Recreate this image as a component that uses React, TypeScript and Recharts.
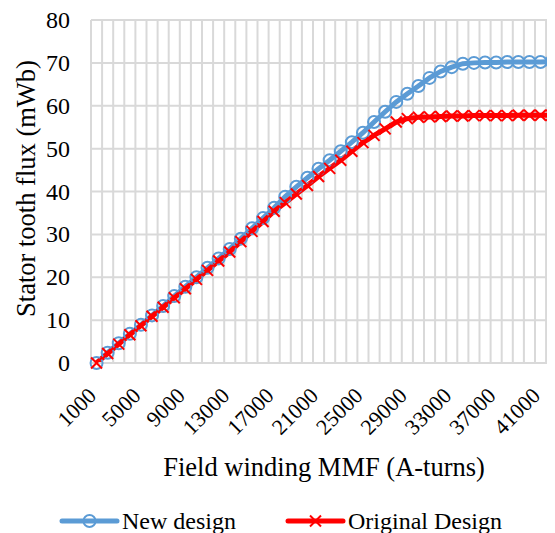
import React from 'react';
import { LineChart, Line, XAxis, YAxis, CartesianGrid, Legend } from 'recharts';

const mmf = [
  1000, 2000, 3000, 4000, 5000, 6000, 7000, 8000, 9000, 10000,
  11000, 12000, 13000, 14000, 15000, 16000, 17000, 18000, 19000, 20000,
  21000, 22000, 23000, 24000, 25000, 26000, 27000, 28000, 29000, 30000,
  31000, 32000, 33000, 34000, 35000, 36000, 37000, 38000, 39000, 40000,
  41000, 42000,
];

const newDesign = [
  0, 2.4, 4.6, 6.8, 8.9, 11.1, 13.3, 15.6, 17.8, 20.0,
  22.2, 24.4, 26.6, 29.0, 31.4, 33.8, 36.2, 38.8, 41.1, 43.2,
  45.3, 47.3, 49.4, 51.5, 53.7, 56.2, 58.6, 60.9, 62.8, 64.6,
  66.5, 68.0, 69.0, 69.8, 70.0, 70.1, 70.1, 70.2, 70.2, 70.2,
  70.2, 70.3,
];

const originalDesign = [
  0, 2.2, 4.4, 6.6, 8.7, 10.9, 13.0, 15.2, 17.3, 19.5,
  21.6, 23.8, 25.9, 28.3, 30.7, 33.0, 35.4, 37.4, 39.4, 41.4,
  43.5, 45.4, 47.3, 49.4, 51.4, 53.1, 54.6, 56.2, 57.0, 57.3,
  57.4, 57.5, 57.6, 57.6, 57.7, 57.7, 57.7, 57.7, 57.8, 57.8,
  57.8, 57.8,
];

const xTickLabels = [1000, 5000, 9000, 13000, 17000, 21000, 25000, 29000, 33000, 37000, 41000];
const yTicks = [0, 10, 20, 30, 40, 50, 60, 70, 80];
const gridTicks = [...mmf.map((v) => v - 500), 42500];

const seriesNames = ['New design', 'Original Design'];
const seriesColors = ['#5B9BD5', '#FF0000'];

const data = mmf.map((x, i) => ({ x, newDesign: newDesign[i], originalDesign: originalDesign[i] }));

const FONT = "'Liberation Serif', 'Times New Roman', serif";
const FS_XTICK = 22;
const FS_YTICK = 24;
const FS_TITLE = 26.5;
const FS_LEGEND = 24;
const TEXT = '#000000';
const GRID = '#D9D9D9';

const CircleDot = (props: any) => {
  const { cx, cy } = props;
  if (cx == null || cy == null) return null;
  return <circle cx={cx} cy={cy} r={6} fill="none" stroke={seriesColors[0]} strokeWidth={2} />;
};

const CrossDot = (props: any) => {
  const { cx, cy } = props;
  if (cx == null || cy == null) return null;
  const s = 5.5;
  return (
    <g stroke={seriesColors[1]} strokeWidth={2}>
      <line x1={cx - s} y1={cy - s} x2={cx + s} y2={cy + s} />
      <line x1={cx - s} y1={cy + s} x2={cx + s} y2={cy - s} />
    </g>
  );
};

const XTick = (props: any) => {
  const { x, y, payload } = props;
  const ax = x + 1;
  const ay = y + 34;
  return (
    <text x={ax} y={ay} textAnchor="end" transform={`rotate(-45, ${ax}, ${ay})`} fontFamily={FONT} fontSize={FS_XTICK} fill={TEXT}>
      {payload.value}
    </text>
  );
};

const YTick = (props: any) => {
  const { y, payload } = props;
  return (
    <text x={62} y={y} dy={8} textAnchor="end" fontFamily={FONT} fontSize={FS_YTICK} fill={TEXT}>
      {payload.value}
    </text>
  );
};

const YTitle = (props: any) => {
  const vb = props.viewBox || {};
  const cy = vb.y + vb.height / 2 - 3;
  const x = 27;
  return (
    <text x={x} y={cy} textAnchor="middle" transform={`rotate(-90, ${x}, ${cy})`} fontFamily={FONT} fontSize={FS_TITLE} fill={TEXT}>
      Stator tooth flux (mWb)
    </text>
  );
};

const XTitle = (props: any) => {
  const vb = props.viewBox || {};
  const cx = vb.x + vb.width / 2;
  return (
    <text x={cx} y={468} textAnchor="middle" fontFamily={FONT} fontSize={FS_TITLE} fill={TEXT}>
      Field winding MMF (A-turns)
    </text>
  );
};

const LegendContent = () => {
  const items = [
    { x0: 54, name: seriesNames[0], color: seriesColors[0], kind: 'circle' },
    { x0: 280, name: seriesNames[1], color: seriesColors[1], kind: 'cross' },
  ];
  return (
    <svg width={560} height={24} style={{ display: 'block', overflow: 'visible' }}>
      {items.map((it) => {
        const cx = it.x0 + 27.5;
        const cy = 12;
        return (
          <g key={it.name}>
            <line x1={it.x0} y1={cy} x2={it.x0 + 55} y2={cy} stroke={it.color} strokeWidth={5} strokeLinecap="round" />
            {it.kind === 'circle' ? (
              <circle cx={cx} cy={cy} r={6} fill="none" stroke={it.color} strokeWidth={2} />
            ) : (
              <g stroke={it.color} strokeWidth={2}>
                <line x1={cx - 5.5} y1={cy - 5.5} x2={cx + 5.5} y2={cy + 5.5} />
                <line x1={cx - 5.5} y1={cy + 5.5} x2={cx + 5.5} y2={cy - 5.5} />
              </g>
            )}
            <text x={it.x0 + 60} y={cy + 8} fontFamily={FONT} fontSize={FS_LEGEND} fill={TEXT}>
              {it.name}
            </text>
          </g>
        );
      })}
    </svg>
  );
};

export default function App() {
  return (
    <div style={{ width: 547, height: 525, overflow: 'hidden', position: 'relative' }}>
      <LineChart
        width={560}
        height={525}
        data={data}
        margin={{ top: 12, right: 10.8, bottom: 6, left: 0 }}
      >
        <CartesianGrid xAxisId="grid" stroke={GRID} strokeWidth={2} vertical={true} horizontal={true} />
        <XAxis
          dataKey="x"
          type="number"
          domain={[500, 42500]}
          ticks={xTickLabels}
          interval={0}
          tick={<XTick />}
          tickLine={false}
          tickSize={0}
          tickMargin={0}
          axisLine={{ stroke: GRID, strokeWidth: 2 }}
          height={140}
          label={<XTitle />}
        />
        <XAxis xAxisId="grid" dataKey="x" type="number" domain={[500, 42500]} ticks={gridTicks} interval={0} hide />
        <YAxis
          type="number"
          domain={[0, 80]}
          ticks={yTicks}
          interval={0}
          width={83}
          tick={<YTick />}
          tickLine={false}
          axisLine={false}
          label={<YTitle />}
        />
        <Legend
          verticalAlign="bottom"
          content={<LegendContent />}
          wrapperStyle={{ left: 0, bottom: 0, width: 560, height: 24 }}
        />
        <Line
          type="linear"
          dataKey="newDesign"
          name={seriesNames[0]}
          stroke={seriesColors[0]}
          strokeWidth={5}
          dot={<CircleDot />}
          isAnimationActive={false}
        />
        <Line
          type="linear"
          dataKey="originalDesign"
          name={seriesNames[1]}
          stroke={seriesColors[1]}
          strokeWidth={5}
          dot={<CrossDot />}
          isAnimationActive={false}
        />
      </LineChart>
    </div>
  );
}
